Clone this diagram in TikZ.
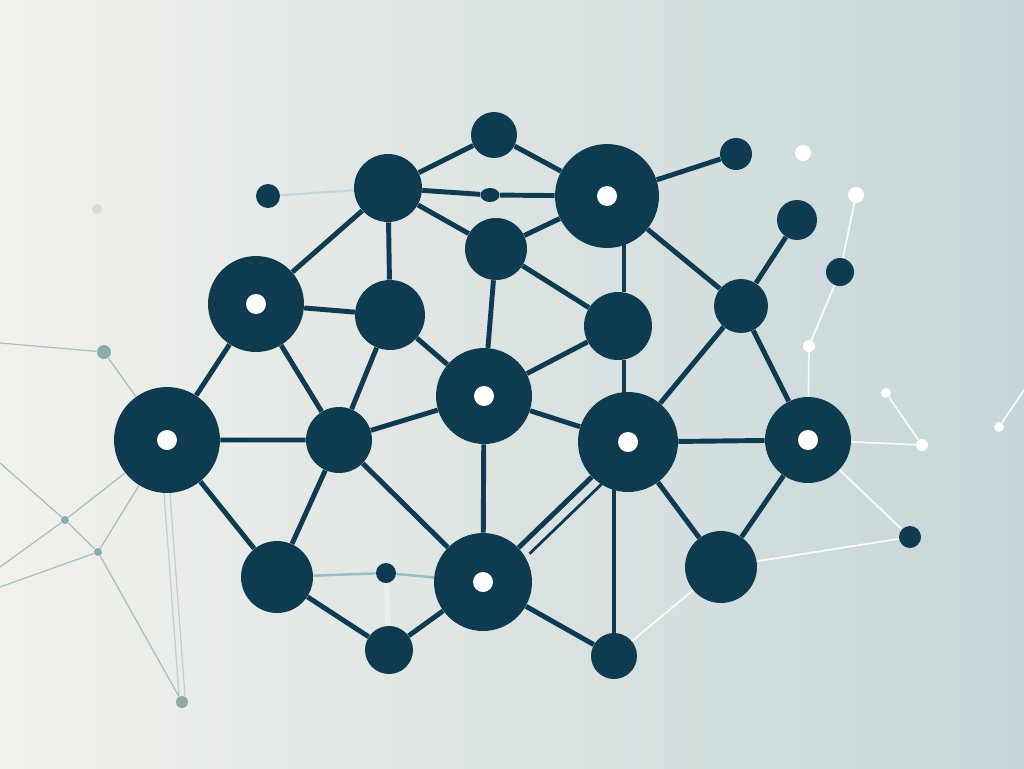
\documentclass[tikz,border=0pt]{standalone}
\usepackage{tikz}
\usepackage{xcolor}
\usetikzlibrary{shapes.geometric}
\definecolor{netdark}{HTML}{0E3B4F}
\definecolor{ashline}{HTML}{A9BEBE}
\definecolor{ashdot}{HTML}{8FAAAA}
\definecolor{mistline}{HTML}{9DB9C4}
\definecolor{bgleft}{HTML}{F1F1EC}
\definecolor{bgright}{HTML}{C6D6D8}
\tikzset{
    hub-node/.style = {circle, fill=netdark, inner sep=0pt, minimum size=#1*0.04cm},
    eye-node/.style = {hub-node=#1, path picture={\fill[white] (path picture bounding box.center) circle (0.2cm);}},
    spark-node/.style = {circle, fill=white, inner sep=0pt, minimum size=#1*0.04cm},
    ash-node/.style = {circle, fill=ashdot, inner sep=0pt, minimum size=#1*0.04cm},
    net-link/.style = {draw=netdark, line width=2.8pt},
    spark-link/.style = {draw=white, line width=1pt, opacity=0.9},
    ash-link/.style = {draw=ashline, line width=0.7pt},
    mist-link/.style = {draw=mistline, line width=1.4pt},
}

\begin{document}
\begin{tikzpicture}[x=0.02cm, y=-0.02cm]
\useasboundingbox (0,0) rectangle (1024,768);
\shade[left color=bgleft, right color=bgright] (0,0) rectangle (1024,768);

% dark network
\node[hub-node=23] (nA) at (494,135) {};
\node[hub-node=34] (nB) at (388,188) {};
\node[eye-node=52] (nC) at (607,196) {};
\node[hub-node=12] (nD) at (268,196) {};
\node[hub-node=16] (nE) at (736,154) {};
\node[hub-node=20] (nF) at (797,220) {};
\node[hub-node=14] (nG) at (840,272) {};
\node[hub-node=31] (nH) at (496,249) {};
\node[eye-node=48] (nI) at (256,304) {};
\node[hub-node=35] (nJ) at (390,315) {};
\node[hub-node=34] (nK) at (618,326) {};
\node[hub-node=27] (nL) at (741,306) {};
\node[eye-node=48] (nM) at (484,396) {};
\node[eye-node=53] (nN) at (167,440) {};
\node[hub-node=33] (nO) at (339,440) {};
\node[eye-node=50] (nP) at (628,442) {};
\node[eye-node=43] (nQ) at (808,440) {};
\node[hub-node=11] (nR) at (910,537) {};
\node[hub-node=36] (nS) at (277,577) {};
\node[hub-node=10] (nT) at (386,573) {};
\node[eye-node=49] (nU) at (483,582) {};
\node[hub-node=36] (nV) at (721,567) {};
\node[hub-node=24] (nW) at (389,650) {};
\node[hub-node=23] (nX) at (614,656) {};
\node[ellipse, fill=netdark, inner sep=0pt, minimum width=0.38cm, minimum height=0.28cm] (nBC) at (490,195) {};
\coordinate (kc) at ([xshift=0.12cm]nK.north |- nC);
\coordinate (kp) at ([xshift=0.12cm]nK.south |- nP.north);

\draw[net-link] (nA) -- (nB) (nA) -- (nC) (nB) -- (nBC) (nBC) -- (nC);
\draw[net-link] (nB) -- (nH) (nH) -- (nC) (nH) -- (nK) (nH) -- (nM);
\draw[net-link] (nB) -- (nJ) (nB) -- (nI) (nC) -- (nE) (nC) -- (nL);
\draw[net-link] ([xshift=0.12cm]nK.north) -- (kc);
\draw[net-link] ([xshift=0.12cm]nK.south) -- ([yshift=-0.3cm]kp);
\draw[net-link] (nX) -- (nX |- nP);
\draw[net-link] (nL) -- (nF) (nL) -- (nP) (nL) -- (nQ);
\draw[net-link] (nK) -- (nM) (nP) -- (nM) (nP) -- (nQ);
\draw[net-link] (nP) -- (nV) (nQ) -- (nV) (nP) -- (nU);
\draw[net-link, line width=1.6pt, transform canvas={shift={(0.22cm,-0.12cm)}}] (nP) -- (nU);
\draw[net-link] (nU) -- (nX) (nU) -- (nW) (nW) -- (nS) (nU) -- (nO) (nU) -- (nM);
\draw[net-link] (nM) -- (nO) (nM) -- (nJ) (nO) -- (nJ) (nO) -- (nI);
\draw[net-link] (nN) -- (nO) (nN) -- (nS) (nS) -- (nO) (nI) -- (nN) (nI) -- (nJ);

% pale threads
\draw[mist-link] (nS) -- (nT) -- (nU);
\draw[white, line width=3pt, opacity=0.35] (nT) -- (nW);
\draw[mistline!60, line width=1.2pt] (nD) -- (nB);

% white sparks on the right
\node[spark-node=8] (sA) at (803,153) {};
\node[spark-node=8] (sB) at (856,195) {};
\node[spark-node=6] (sC) at (809,346) {};
\node[spark-node=5] (sD) at (886,393) {};
\node[spark-node=6] (sE) at (922,445) {};
\node[spark-node=5] (sF) at (999,427) {};
\coordinate (rA) at (1024,390);
\draw[spark-link] (sB) -- (nG) (nG) -- (sC) (sC) -- (nQ);
\draw[spark-link] (nQ) -- (sE) (sD) -- (sE) (sF) -- (rA);
\draw[spark-link] (nQ) -- (nR) (nR) -- (nV) (nX) -- (nV);

% grey threads on the left
\node[ash-node=7] (gA) at (104,352) {};
\node[ash-node=4] (gB) at (65,520) {};
\node[ash-node=4] (gC) at (98,552) {};
\node[ash-node=6] (gD) at (182,702) {};
\node[circle, fill=ashdot!40, inner sep=0pt, minimum size=0.2cm] (gE) at (97,209) {};
\coordinate (lA) at (0,343);
\coordinate (lB) at (0,463);
\coordinate (lC) at (0,567);
\coordinate (lD) at (0,587);
\draw[ash-link] (lA) -- (gA) (gA) -- (nN);
\draw[ash-link] (lB) -- (gB) (gB) -- (gC) (gC) -- (gD);
\draw[ash-link] (lC) -- (gB) (lD) -- (gC) (gB) -- (nN) (gC) -- (nN);
\draw[ash-link, opacity=0.6] ([xshift=-0.06cm]nN.south) -- ([xshift=-0.06cm]gD.north);
\draw[ash-link, opacity=0.6] ([xshift=0.06cm]nN.south) -- ([xshift=0.06cm]gD.north);
\end{tikzpicture}
\end{document}
